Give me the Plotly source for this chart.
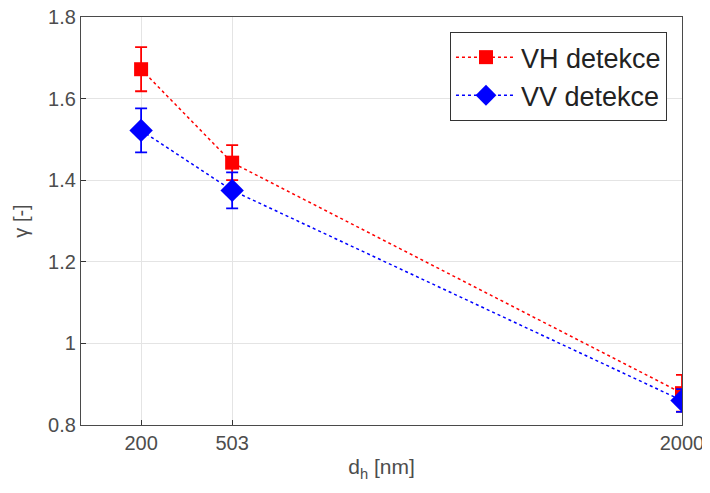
import plotly.graph_objects as go

x_vals = [200, 503, 2000]
vh_vals = [1.672, 1.443, 0.878]
vh_err = [0.054, 0.043, 0.045]
vv_vals = [1.522, 1.375, 0.860]
vv_err = [0.054, 0.044, 0.028]
x_ticks = [200, 503, 2000]
y_ticks = [0.8, 1, 1.2, 1.4, 1.6, 1.8]
y_ticklabels = ["0.8", "1", "1.2", "1.4", "1.6", "1.8"]

FONT = "Liberation Sans, Arial, sans-serif"

fig = go.Figure()
fig.add_trace(go.Scatter(
    x=x_vals, y=vh_vals, name="VH detekce", mode="lines+markers",
    line=dict(color="#ff0000", dash="dot", width=1.5),
    marker=dict(symbol="square", size=14, color="#ff0000"),
    error_y=dict(type="data", array=vh_err, color="#ff0000", thickness=1.8, width=6),
))
fig.add_trace(go.Scatter(
    x=x_vals, y=vv_vals, name="VV detekce", mode="lines+markers",
    line=dict(color="#0000ff", dash="dot", width=1.5),
    marker=dict(symbol="diamond", size=18, color="#0000ff"),
    error_y=dict(type="data", array=vv_err, color="#0000ff", thickness=1.8, width=6),
))

axis_common = dict(
    showline=True, linecolor="#4a4a4a", linewidth=1.3, mirror=True,
    showgrid=True, gridcolor="#e4e4e4", gridwidth=1,
    zeroline=False, ticks="inside", ticklen=5, tickcolor="#333333",
    automargin=False, ticklabeloverflow="allow",
    tickfont=dict(family=FONT, size=20, color="#4d4d4d"),
)
fig.update_xaxes(range=[0, 2000], tickvals=x_ticks, ticktext=[str(v) for v in x_ticks],
                 title=dict(text="d<sub>h</sub> [nm]", standoff=6,
                            font=dict(family=FONT, size=21, color="#4d4d4d")),
                 **axis_common)
fig.update_yaxes(range=[0.8, 1.8], tickvals=y_ticks, ticktext=y_ticklabels,
                 title=dict(text="γ [-]", standoff=14,
                            font=dict(family=FONT, size=20, color="#4d4d4d")),
                 **axis_common)

fig.update_layout(
    width=702, height=485,
    margin=dict(l=73, r=28, t=9, b=68),
    paper_bgcolor="white", plot_bgcolor="white",
    showlegend=True,
    legend=dict(x=0.975, y=0.963, xanchor="right", yanchor="top",
                bordercolor="#333333", borderwidth=1, bgcolor="white",
                font=dict(family=FONT, size=27, color="#222222"),
                itemwidth=60, tracegroupgap=0),
)

fig.write_html("out.html")
